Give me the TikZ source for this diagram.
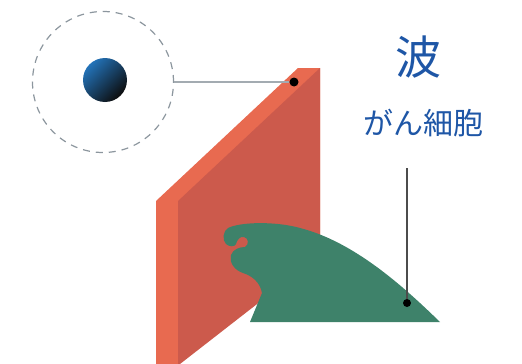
\documentclass[tikz,border=0pt]{standalone}
\usepackage{fontspec}
\newfontfamily\jp{Noto Sans CJK JP}
\usetikzlibrary{positioning}

\definecolor{slabfront}{RGB}{204,90,76}
\definecolor{slabside}{RGB}{232,106,80}
\definecolor{wavegreen}{RGB}{62,130,106}
\definecolor{labelblue}{RGB}{30,86,166}
\definecolor{ballblue}{RGB}{35,115,185}
\definecolor{pingray}{RGB}{140,150,158}

\tikzset{
  pin dot/.style={circle, fill=black, inner sep=0, minimum size=#1},
  leader/.style={line width=1.4pt},
}

\begin{document}
\begin{tikzpicture}[x=1pt, y=-1pt]
\useasboundingbox (0,0) rectangle (522,364);

% slab: side faces first, front face on top
\fill[slabside] (156,201) -- (298,68) -- (320,68) -- (320,255) -- (178,364) -- (156,364) -- cycle;
\fill[slabfront] (178,201) -- (320,68) -- (320,255) -- (180,364) -- (178,364) -- cycle;

% wave
\fill[wavegreen] (250,322) -- (262,293)
  .. controls (260,282) and (252,276) .. (243,273)
  .. controls (234,270) and (229,262) .. (231,255)
  .. controls (233,249) and (240,247) .. (245,247)
  .. controls (249,245) and (249,238) .. (244,237)
  .. controls (240,236) and (237,240) .. (236,244)
  .. controls (235,247) and (229,247) .. (226,244)
  .. controls (222,240) and (223,231) .. (228,228)
  .. controls (240,222) and (275,221) .. (300,228)
  .. controls (355,242) and (405,288) .. (440,322)
  -- cycle;

% cell and its halo
\node[circle, draw=pingray, dashed, dash pattern=on 7pt off 6pt, line width=1.2pt,
      minimum size=141pt, inner sep=0] (halo) at (103,82) {};
\node[circle, minimum size=44pt, inner sep=0, shading=axis, top color=ballblue,
      middle color=ballblue!45!black, bottom color=black!95, shading angle=45] (cell) at (105,80) {};

% labels
\node[text=labelblue, font=\jp\fontsize{46}{50}\selectfont] (wave) at (418,57) {波};
\node[text=labelblue, font=\jp\fontsize{30}{34}\selectfont] (cancer) at (423,123) {がん細胞};

% pins
\node[pin dot=9pt] (slabpin) at (294,82) {};
\node[pin dot=8pt] (wavepin) at (407,303) {};
\coordinate (cancertip) at (407,168);

\draw[leader, draw=pingray!80] (halo.east) -- (slabpin);
\draw[leader, draw=black!70] (cancertip) -- (wavepin);

\end{tikzpicture}
\end{document}
